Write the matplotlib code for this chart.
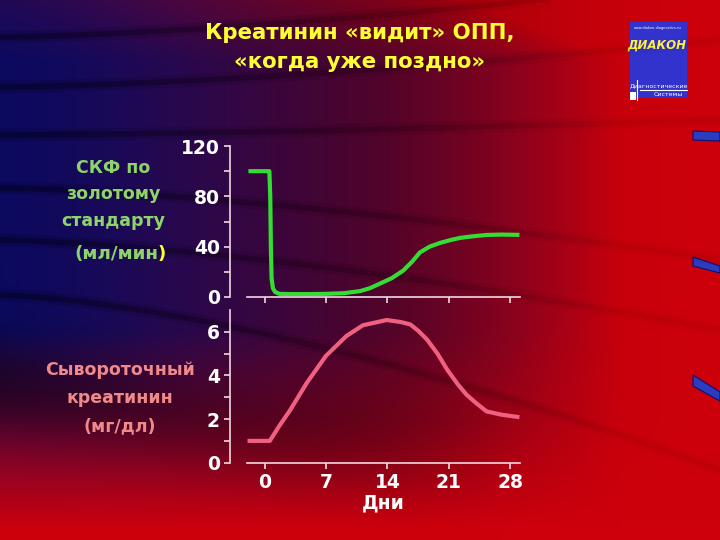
import numpy as np
import matplotlib.pyplot as plt
from matplotlib.patches import Rectangle, Polygon
from matplotlib.collections import LineCollection

# СКФ (мл/мин) по дням
days_gfr = [-1.6, 0.55, 0.65, 0.72, 0.8, 0.95, 1.2, 1.7, 3, 5, 7, 9, 10.9, 12, 13.1,
            14.5, 15.8, 16.8, 17.7, 18.8, 20, 21.2, 22.3, 23.8, 25.3, 27, 28.8]
gfr = [100, 100, 80, 40, 15, 7, 4, 2.5, 2.3, 2.3, 2.5, 3, 4.7, 7, 10.5,
       15, 21, 28, 35.4, 40, 43, 45.3, 47, 48.3, 49.3, 49.6, 49.4]

# сывороточный креатинин (мг/дл)
days_cr = [-1.7, 0.6, 1.7, 2.9, 4.8, 7, 9.3, 11.2, 13.9, 15.5, 16.6, 17.5, 18.5,
           19.7, 20.8, 22, 23, 24.2, 25.3, 27, 28.8]
cr = [1.0, 1.0, 1.7, 2.4, 3.65, 4.9, 5.8, 6.3, 6.54, 6.45, 6.34, 6.05, 5.65,
      5.0, 4.27, 3.6, 3.12, 2.7, 2.35, 2.2, 2.1]

day_ticks = [0, 7, 14, 21, 28]

W, H = 720, 540
fig = plt.figure(figsize=(7.2, 5.4), dpi=100)

# ---- background
bg = fig.add_axes([0, 0, 1, 1], zorder=-10)
X, Y = np.meshgrid(np.arange(W), np.arange(H))
navy = np.array([12, 10, 95]) / 255
red = np.array([205, 0, 12]) / 255
s = np.clip((X / W) ** 1.5 * 1.25 + np.clip(1 - Y / 60, 0, 1) * 0.35 * (X / W + 0.3), 0, 1)
img = navy[None, None, :] * (1 - s[..., None]) + red[None, None, :] * s[..., None]
b = np.clip((Y - 330) / 200, 0, 1)
img = img * (1 - b[..., None]) + red[None, None, :] * b[..., None]
dark = 1 - 0.45 * np.exp(-((Y - 385 - X * 0.15) / 50) ** 2) * np.clip(1 - X / 500, 0, 1)
dark = dark * (1 - 0.22 * np.exp(-((X - 380) / 170) ** 2) * np.clip((520 - Y) / 100, 0, 1))
img = img * dark[..., None]
bg.imshow(img, extent=[0, W, H, 0], aspect='auto')

# dark streaks, fading to the right
xs = np.linspace(0, W, 200)
fade = np.clip(1.1 - xs / 650, 0.15, 1)[:-1]
for y0, y1 in [(37, -20), (87, 40), (135, 120), (188, 260), (240, 330), (295, 470)]:
    ys = y0 + (y1 - y0) * (xs / W) ** 1.5
    segs = np.stack([np.column_stack([xs[:-1], ys[:-1]]), np.column_stack([xs[1:], ys[1:]])], axis=1)
    for lw, a in [(9, 0.12), (4, 0.3)]:
        cols = np.zeros((len(segs), 4))
        cols[:, 3] = a * fade
        bg.add_collection(LineCollection(segs, colors=cols, linewidths=lw, capstyle='butt'))

# right-side tabs
for pts in [[(693, 131), (720, 132), (720, 141), (693, 140)],
            [(693, 257), (720, 266), (720, 273), (693, 266)],
            [(693, 375), (720, 392), (720, 401), (693, 386)]]:
    bg.add_patch(Polygon(pts, closed=True, facecolor='#2a3cc0', edgecolor='#101070', lw=0.8))

# logo
bg.add_patch(Rectangle((630, 22), 57, 76, facecolor='#3232cc', edgecolor='none'))
bg.plot([640, 687], [90, 90], color='white', lw=0.8)
bg.plot([637, 637], [80, 100], color='white', lw=0.8)
bg.add_patch(Rectangle((630, 92), 6, 8, facecolor='white', edgecolor='none'))
bg.text(658, 28, 'www.diakon-diagnostics.ru', color='white', fontsize=2.5, ha='center', va='center')
bg.text(657, 45, 'ДИАКОН', color='#ffee44', fontsize=8.5, fontweight='bold', style='italic',
        ha='center', va='center')
bg.text(659, 86, 'Диагностические', color='white', fontsize=4.5, ha='center', va='center')
bg.text(668, 95, 'Системы', color='white', fontsize=4.5, ha='center', va='center')
bg.set_xlim(0, W)
bg.set_ylim(H, 0)
bg.axis('off')

# ---- titles and labels
fig.text(360 / W, 1 - 33 / H, 'Креатинин «видит» ОПП,', color='#ffff33', fontsize=15.3,
         fontweight='bold', ha='center', va='center')
fig.text(360 / W, 1 - 62 / H, '«когда уже поздно»', color='#ffff33', fontsize=15.3,
         fontweight='bold', ha='center', va='center')

green_lbl = '#8fd46a'
for txt, y in [('СКФ по', 168), ('золотому', 194), ('стандарту', 221)]:
    fig.text(113 / W, 1 - y / H, txt, color=green_lbl, fontsize=12.5, fontweight='bold',
             ha='center', va='center')
fig.text(158 / W, 1 - 254 / H, '(мл/мин', color=green_lbl, fontsize=13.2, fontweight='bold',
         ha='right', va='center')
fig.text(158 / W, 1 - 254 / H, ')', color='#ffff33', fontsize=13.2, fontweight='bold',
         ha='left', va='center')

pink_lbl = '#f08a8a'
for txt, y in [('Сывороточный', 370), ('креатинин', 398), ('(мг/дл)', 426)]:
    fig.text(120 / W, 1 - y / H, txt, color=pink_lbl, fontsize=12.5, fontweight='bold',
             ha='center', va='center')

spine_c = '#f0d8e0'


def style(ax):
    ax.set_facecolor('none')
    for sp in ['top', 'right']:
        ax.spines[sp].set_visible(False)
    ax.spines['left'].set_position(('outward', 12))
    for sp in ['left', 'bottom']:
        ax.spines[sp].set_color(spine_c)
        ax.spines[sp].set_linewidth(1.2)
    ax.tick_params(colors=spine_c, width=1.2, length=4, labelcolor='white', labelsize=13.5)
    ax.tick_params(which='minor', colors=spine_c, width=1.2, length=4)
    for lab in ax.get_yticklabels() + ax.get_xticklabels():
        lab.set_fontweight('bold')
    ax.set_xlim(-2, 29.1)
    ax.set_xticks(day_ticks)


# top panel
ax1 = fig.add_axes([247 / W, 1 - 297 / H, 273 / W, 151 / H])
ax1.plot(days_gfr, gfr, color='#33dd33', lw=3, solid_joinstyle='round')
ax1.set_ylim(0, 120)
ax1.set_yticks([0, 40, 80, 120])
ax1.set_yticks([20, 60, 100], minor=True)
style(ax1)
ax1.tick_params(axis='x', labelbottom=False)

# bottom panel
ax2 = fig.add_axes([247 / W, 1 - 462.7 / H, 273 / W, 152.7 / H])
ax2.plot(days_cr, cr, color='#f06080', lw=3, solid_joinstyle='round')
ax2.set_ylim(0, 7)
ax2.set_yticks([0, 2, 4, 6])
ax2.set_yticks([1, 3, 5], minor=True)
style(ax2)
ax2.set_xlabel('Дни', color='white', fontsize=13.5, fontweight='bold', labelpad=1)

fig.savefig('out.png', dpi=100)
